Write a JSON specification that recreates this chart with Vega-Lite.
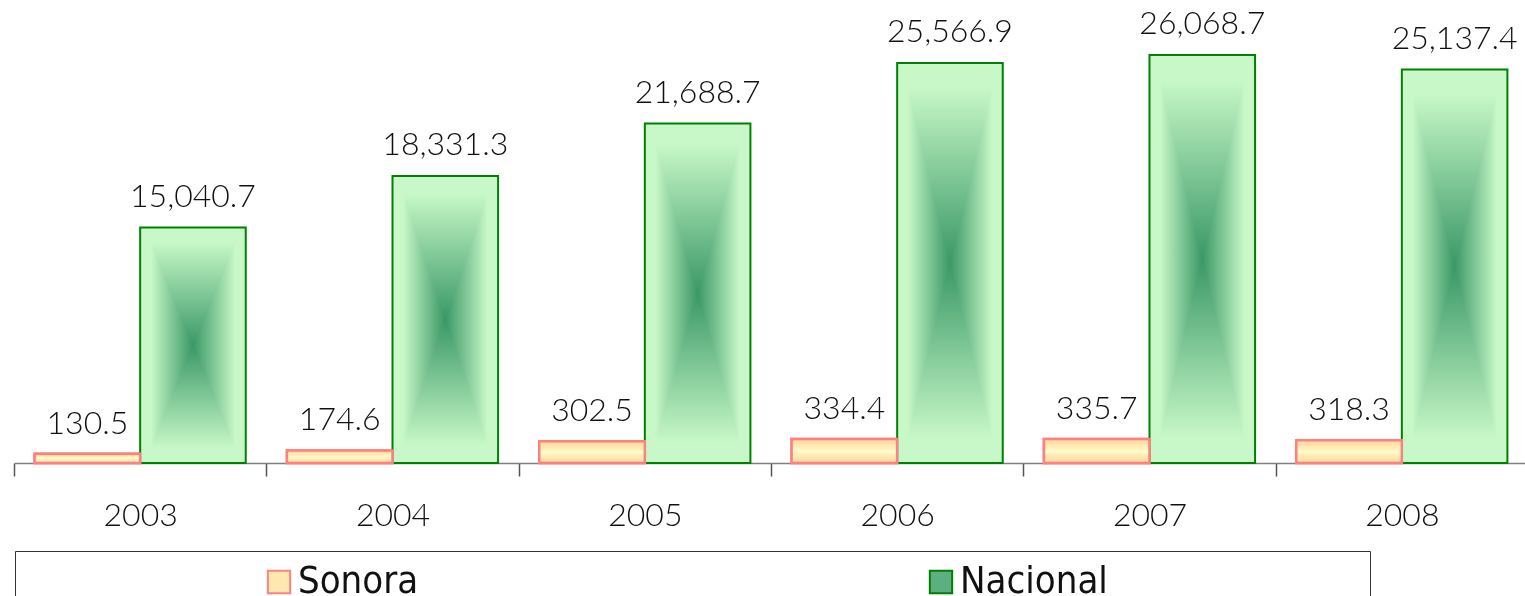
{
  "$schema": "https://vega.github.io/schema/vega-lite/v6.json",
  "width": 1514,
  "height": 463,
  "autosize": {"type": "none"},
  "padding": {"left": 14, "top": 0, "right": 0, "bottom": 133},
  "background": "white",
  "config": {"view": {"stroke": null}, "font": "Lato"},
  "data": {
    "values": [
      {"year": "2003", "series": "Sonora", "value": 130.5},
      {"year": "2003", "series": "Nacional", "value": 15040.7},
      {"year": "2004", "series": "Sonora", "value": 174.6},
      {"year": "2004", "series": "Nacional", "value": 18331.3},
      {"year": "2005", "series": "Sonora", "value": 302.5},
      {"year": "2005", "series": "Nacional", "value": 21688.7},
      {"year": "2006", "series": "Sonora", "value": 334.4},
      {"year": "2006", "series": "Nacional", "value": 25566.9},
      {"year": "2007", "series": "Sonora", "value": 335.7},
      {"year": "2007", "series": "Nacional", "value": 26068.7},
      {"year": "2008", "series": "Sonora", "value": 318.3},
      {"year": "2008", "series": "Nacional", "value": 25137.4}
    ]
  },
  "encoding": {
    "x": {
      "field": "year",
      "type": "nominal",
      "scale": {"paddingInner": 0, "paddingOuter": 0},
      "axis": {
        "title": null,
        "labelAngle": 0,
        "labelFontSize": 32,
        "labelFont": "Lato",
        "labelFontWeight": 300,
        "labelColor": "#111111",
        "domainColor": "#808080",
        "domainWidth": 1.5,
        "tickColor": "#555555",
        "tickWidth": 1.5,
        "tickSize": 13,
        "tickBand": "extent",
        "labelPadding": 24
      }
    },
    "xOffset": {
      "field": "series",
      "type": "nominal",
      "scale": {"domain": ["Sonora", "Nacional"], "paddingInner": 0, "paddingOuter": 0.195}
    }
  },
  "layer": [
    {
      "transform": [{"filter": "datum.series === 'Sonora'"}],
      "mark": {"type": "bar", "strokeWidth": 2.5},
      "encoding": {
        "y": {"field": "value", "type": "quantitative", "scale": {"domain": [0, 6466]}, "axis": null},
        "fill": {
          "field": "series",
          "type": "nominal",
          "scale": {"domain": ["Sonora", "Nacional"], "range": ["#FFE9B0", "#5DAF80"]},
          "legend": {
            "orient": "none",
            "legendX": 1,
            "legendY": 551,
            "direction": "horizontal",
            "title": "\u00a0",
            "titleOrient": "right",
            "titlePadding": 250,
            "titleFontSize": 20,
            "padding": 12,
            "strokeColor": "#333333",
            "symbolType": "square",
            "symbolSize": 500,
            "symbolStrokeWidth": 2,
            "symbolOpacity": 1,
            "symbolOffset": 233,
            "labelOffset": 0,
            "labelFont": "DejaVu Sans Condensed, Lato",
            "labelFontSize": 38,
            "labelColor": "#111111",
            "columnPadding": 270
          }
        },
        "stroke": {
          "field": "series",
          "type": "nominal",
          "scale": {"domain": ["Sonora", "Nacional"], "range": ["#FF8080", "#008000"]},
          "legend": {
            "orient": "none",
            "legendX": 1,
            "legendY": 551,
            "direction": "horizontal",
            "title": "\u00a0",
            "titleOrient": "right",
            "titlePadding": 250,
            "titleFontSize": 20,
            "padding": 12,
            "strokeColor": "#333333",
            "symbolType": "square",
            "symbolSize": 500,
            "symbolStrokeWidth": 2,
            "symbolOpacity": 1,
            "symbolOffset": 233,
            "labelOffset": 0,
            "labelFont": "DejaVu Sans Condensed, Lato",
            "labelFontSize": 38,
            "labelColor": "#111111",
            "columnPadding": 270
          }
        }
      }
    },
    {
      "transform": [{"filter": "datum.series === 'Nacional'"}],
      "mark": {
        "type": "bar",
        "fill": {
          "gradient": "linear", "x1": 0, "y1": 0, "x2": 0, "y2": 1,
          "stops": [
            {"offset": 0, "color": "#C8F8C8"},
            {"offset": 0.06, "color": "#C8F8C8"},
            {"offset": 0.5, "color": "#3A9866"},
            {"offset": 0.94, "color": "#C8F8C8"},
            {"offset": 1, "color": "#C8F8C8"}
          ]
        }
      },
      "encoding": {
        "y": {"field": "value", "type": "quantitative", "scale": {"domain": [0, 29585]}, "axis": null}
      }
    },
    {
      "transform": [{"filter": "datum.series === 'Nacional'"}],
      "mark": {
        "type": "bar",
        "blend": "lighten",
        "fill": {
          "gradient": "linear", "x1": 0, "y1": 0, "x2": 1, "y2": 0,
          "stops": [
            {"offset": 0, "color": "#C8F8C8"},
            {"offset": 0.1, "color": "#C8F8C8"},
            {"offset": 0.5, "color": "#3A9866"},
            {"offset": 0.9, "color": "#C8F8C8"},
            {"offset": 1, "color": "#C8F8C8"}
          ]
        }
      },
      "encoding": {
        "y": {"field": "value", "type": "quantitative", "scale": {"domain": [0, 29585]}, "axis": null}
      }
    },
    {
      "transform": [{"filter": "datum.series === 'Nacional'"}],
      "mark": {"type": "bar", "fill": "transparent", "stroke": "#008000", "strokeWidth": 2},
      "encoding": {
        "y": {"field": "value", "type": "quantitative", "scale": {"domain": [0, 29585]}, "axis": null}
      }
    },
    {
      "transform": [{"filter": "datum.series === 'Nacional'"}],
      "mark": {"type": "text", "baseline": "alphabetic", "dy": -21, "fontSize": 32, "font": "Lato", "fontWeight": 300, "color": "#111111"},
      "encoding": {
        "y": {"field": "value", "type": "quantitative", "scale": {"domain": [0, 29585]}, "axis": null},
        "text": {"field": "value", "type": "quantitative", "format": ",.1f"}
      }
    },
    {
      "transform": [{"filter": "datum.series === 'Sonora'"}],
      "mark": {
        "type": "bar",
        "stroke": "#FF8080",
        "strokeWidth": 2.5,
        "fill": {
          "gradient": "linear", "x1": 0, "y1": 0, "x2": 0, "y2": 1,
          "stops": [
            {"offset": 0, "color": "#FFD49A"},
            {"offset": 0.5, "color": "#FFFBC8"},
            {"offset": 1, "color": "#FFD49A"}
          ]
        }
      },
      "encoding": {
        "y": {"field": "value", "type": "quantitative", "scale": {"domain": [0, 6466]}, "axis": null}
      }
    },
    {
      "transform": [{"filter": "datum.series === 'Sonora'"}],
      "mark": {"type": "text", "baseline": "alphabetic", "dy": -20, "fontSize": 32, "font": "Lato", "fontWeight": 300, "color": "#111111"},
      "encoding": {
        "y": {"field": "value", "type": "quantitative", "scale": {"domain": [0, 6466]}, "axis": null},
        "text": {"field": "value", "type": "quantitative", "format": ",.1f"}
      }
    }
  ],
  "resolve": {"scale": {"y": "independent"}}
}
